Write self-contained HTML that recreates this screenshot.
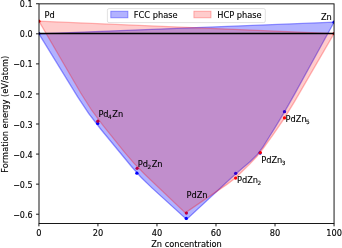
<!DOCTYPE html>
<html><head><meta charset="utf-8"><style>
html,body{margin:0;padding:0;background:#fff;width:342px;height:248px;overflow:hidden}
svg{display:block}
text{stroke:#000;stroke-width:0.12px}
</style></head><body>
<svg width="342" height="248" viewBox="0 0 342 248" font-family="'DejaVu Sans', 'Liberation Sans', sans-serif" font-size="8.25">
<rect width="342" height="248" fill="#fff"/>
<defs><clipPath id="ax"><rect x="38.9" y="3.85" width="295.15" height="219.65"/></clipPath></defs>
<g clip-path="url(#ax)">
<circle cx="38.90" cy="33.60" r="1.65" fill="#0000ff"/>
<circle cx="97.70" cy="123.40" r="1.65" fill="#0000ff"/>
<circle cx="136.90" cy="173.20" r="1.65" fill="#0000ff"/>
<circle cx="186.25" cy="218.45" r="1.65" fill="#0000ff"/>
<circle cx="235.70" cy="173.35" r="1.65" fill="#0000ff"/>
<circle cx="260.10" cy="153.10" r="1.65" fill="#0000ff"/>
<circle cx="284.50" cy="111.70" r="1.65" fill="#0000ff"/>
<circle cx="334.05" cy="22.20" r="1.65" fill="#0000ff"/>
<circle cx="38.90" cy="21.15" r="1.65" fill="#ff0000"/>
<circle cx="97.85" cy="121.25" r="1.65" fill="#ff0000"/>
<circle cx="137.10" cy="168.35" r="1.65" fill="#ff0000"/>
<circle cx="186.40" cy="213.10" r="1.65" fill="#ff0000"/>
<circle cx="235.65" cy="178.10" r="1.65" fill="#ff0000"/>
<circle cx="260.25" cy="152.55" r="1.65" fill="#ff0000"/>
<circle cx="284.50" cy="117.95" r="1.65" fill="#ff0000"/>
<circle cx="334.05" cy="33.60" r="1.65" fill="#ff0000"/>
<path d="M38.90,33.81 L77.82,97.07 Q88.30,114.10 101.02,129.53 L131.26,166.22 Q140.80,177.80 151.90,187.89 L186.60,219.40 L230.13,179.04 Q236.00,173.60 242.11,168.43 L250.36,161.46 Q258.00,155.00 263.28,146.51 L274.44,128.58 Q285.00,111.60 294.62,94.07 L334.05,22.20 Z" fill="rgb(0,0,255)" fill-opacity="0.3" stroke="rgb(0,0,255)" stroke-opacity="0.4" stroke-width="1.3" stroke-linejoin="miter"/>
<path d="M38.90,21.15 L80.54,92.71 Q90.60,110.00 103.11,125.60 L124.61,152.40 Q134.00,164.10 144.87,174.44 L185.30,212.90 L226.99,184.41 Q233.60,179.90 239.32,174.30 L249.75,164.09 Q256.90,157.10 262.77,149.00 L272.47,135.60 Q284.20,119.40 294.24,102.10 L334.05,33.50 Z" fill="rgb(255,0,0)" fill-opacity="0.2" stroke="rgb(255,0,0)" stroke-opacity="0.28" stroke-width="1.3" stroke-linejoin="miter"/>
<line x1="38.9" y1="33.5" x2="334.05" y2="33.5" stroke="#000" stroke-width="1.5"/>
</g>
<rect x="39.0" y="3.85" width="295.05" height="219.65" fill="none" stroke="#000" stroke-width="0.9"/>
<line x1="38.90" y1="223.5" x2="38.90" y2="226.35" stroke="#000" stroke-width="0.9"/>
<text x="38.90" y="235.97" text-anchor="middle">0</text>
<line x1="97.93" y1="223.5" x2="97.93" y2="226.35" stroke="#000" stroke-width="0.9"/>
<text x="97.93" y="235.97" text-anchor="middle">20</text>
<line x1="156.96" y1="223.5" x2="156.96" y2="226.35" stroke="#000" stroke-width="0.9"/>
<text x="156.96" y="235.97" text-anchor="middle">40</text>
<line x1="215.99" y1="223.5" x2="215.99" y2="226.35" stroke="#000" stroke-width="0.9"/>
<text x="215.99" y="235.97" text-anchor="middle">60</text>
<line x1="275.02" y1="223.5" x2="275.02" y2="226.35" stroke="#000" stroke-width="0.9"/>
<text x="275.02" y="235.97" text-anchor="middle">80</text>
<line x1="334.05" y1="223.5" x2="334.05" y2="226.35" stroke="#000" stroke-width="0.9"/>
<text x="334.05" y="235.97" text-anchor="middle">100</text>
<line x1="36.05" y1="3.74" x2="38.9" y2="3.74" stroke="#000" stroke-width="0.9"/>
<text x="32.6" y="7.29" text-anchor="end" font-size="8.0">0.1</text>
<line x1="36.05" y1="33.81" x2="38.9" y2="33.81" stroke="#000" stroke-width="0.9"/>
<text x="32.6" y="37.36" text-anchor="end" font-size="8.0">0.0</text>
<line x1="36.05" y1="63.88" x2="38.9" y2="63.88" stroke="#000" stroke-width="0.9"/>
<text x="32.6" y="67.43" text-anchor="end" font-size="8.0">−0.1</text>
<line x1="36.05" y1="93.95" x2="38.9" y2="93.95" stroke="#000" stroke-width="0.9"/>
<text x="32.6" y="97.50" text-anchor="end" font-size="8.0">−0.2</text>
<line x1="36.05" y1="124.01" x2="38.9" y2="124.01" stroke="#000" stroke-width="0.9"/>
<text x="32.6" y="127.56" text-anchor="end" font-size="8.0">−0.3</text>
<line x1="36.05" y1="154.08" x2="38.9" y2="154.08" stroke="#000" stroke-width="0.9"/>
<text x="32.6" y="157.63" text-anchor="end" font-size="8.0">−0.4</text>
<line x1="36.05" y1="184.15" x2="38.9" y2="184.15" stroke="#000" stroke-width="0.9"/>
<text x="32.6" y="187.70" text-anchor="end" font-size="8.0">−0.5</text>
<line x1="36.05" y1="214.22" x2="38.9" y2="214.22" stroke="#000" stroke-width="0.9"/>
<text x="32.6" y="217.77" text-anchor="end" font-size="8.0">−0.6</text>
<text x="186.47" y="246.8" text-anchor="middle">Zn concentration</text>
<text transform="translate(7.8,114.17) rotate(-90)" text-anchor="middle">Formation energy (eV/atom)</text>
<text x="44.60" y="18.30">Pd</text>
<text x="320.90" y="19.60">Zn</text>
<text x="98.40" y="117.20">Pd<tspan font-size="5.77" dx="-0.6" dy="1.9">4</tspan><tspan dx="0.6" dy="-1.9">Zn</tspan></text>
<text x="137.80" y="166.60">Pd<tspan font-size="5.77" dx="-0.6" dy="1.9">2</tspan><tspan dx="0.6" dy="-1.9">Zn</tspan></text>
<text x="186.50" y="198.40">PdZn</text>
<text x="237.00" y="183.10">PdZn<tspan font-size="5.77" dx="-0.6" dy="1.9">2</tspan></text>
<text x="261.20" y="162.90">PdZn<tspan font-size="5.77" dx="-0.6" dy="1.9">3</tspan></text>
<text x="285.60" y="122.10">PdZn<tspan font-size="5.77" dx="-0.6" dy="1.9">5</tspan></text>
<rect x="107.4" y="8.6" width="157.9" height="14.0" rx="1.6" fill="#fff" fill-opacity="0.8" stroke="#ccc" stroke-width="0.6"/>
<rect x="110.8" y="11.2" width="17.1" height="6.6" fill="rgb(0,0,255)" fill-opacity="0.3" stroke="rgb(0,0,255)" stroke-opacity="0.4" stroke-width="0.9"/>
<rect x="193.9" y="11.2" width="17.1" height="6.6" fill="rgb(255,0,0)" fill-opacity="0.2" stroke="rgb(255,0,0)" stroke-opacity="0.3" stroke-width="0.9"/>
<text x="133.8" y="17.5">FCC phase</text>
<text x="217.2" y="17.5">HCP phase</text>
</svg>
</body></html>
